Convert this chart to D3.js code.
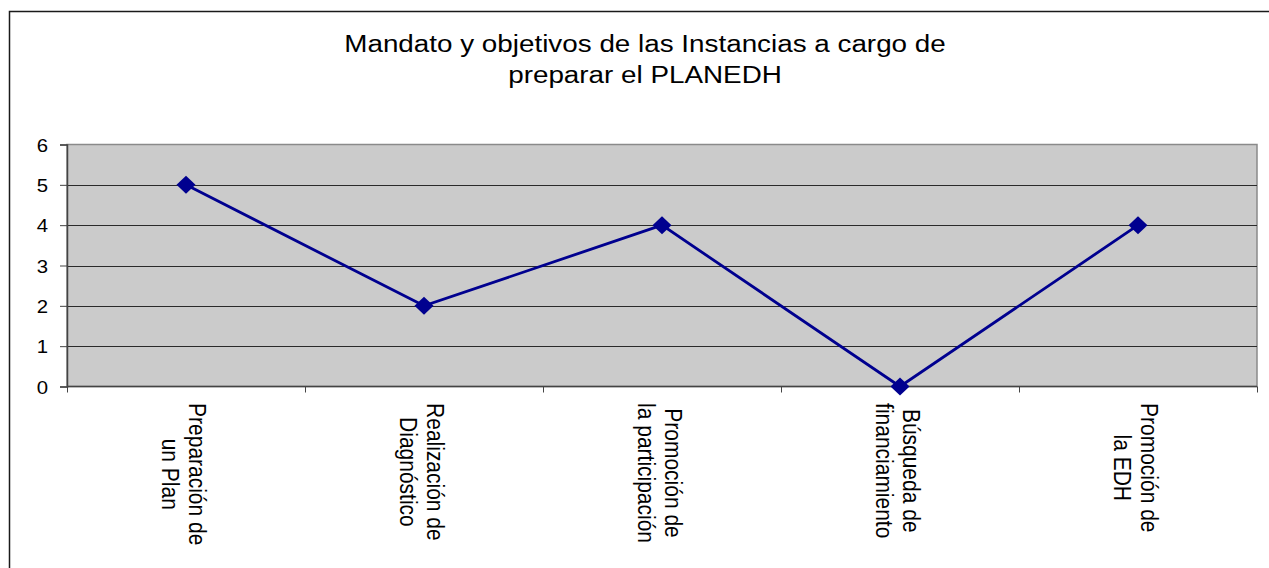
<!DOCTYPE html>
<html><head><meta charset="utf-8">
<script src="https://cdn.jsdelivr.net/npm/d3@7"></script>
<style>
html,body{margin:0;padding:0;background:#fff;}
svg{display:block;font-family:"Liberation Sans",Arial,sans-serif;}
</style></head>
<body><svg id="c" width="1269" height="568"></svg>
<script>
const titleLines = ["Mandato y objetivos de las Instancias a cargo de", "preparar el PLANEDH"];
const categories = [
  ["Preparación de", "un Plan"],
  ["Realización de", "Diagnóstico"],
  ["Promoción de", "la participación"],
  ["Búsqueda de", "financiamiento"],
  ["Promoción de", "la EDH"]
];
const values = [5, 2, 4, 0, 4];
const yTicks = [0, 1, 2, 3, 4, 5, 6];

const svg = d3.select("#c");
const W = 1269, H = 568;
const plot = {left: 67, right: 1257, top: 144.5, bottom: 386.5};
const sx = 1.15;

// outer border
svg.append("rect").attr("x", 9.5).attr("y", 11.5).attr("width", W + 20).attr("height", H + 20)
  .attr("fill", "#fff").attr("stroke", "#1a1a1a").attr("stroke-width", 1.5);

const x = d3.scaleBand().domain(d3.range(categories.length)).range([plot.left, plot.right]);
const y = d3.scaleLinear().domain([0, 6]).range([plot.bottom, plot.top]);

// plot background
svg.append("rect").attr("x", plot.left).attr("y", plot.top)
  .attr("width", plot.right - plot.left).attr("height", plot.bottom - plot.top)
  .attr("fill", "#cbcbcb").attr("stroke", "#8a8a8a").attr("stroke-width", 1.5);

// gridlines
svg.append("g").selectAll("line").data(yTicks.filter(d => d > 0 && d < 6)).join("line")
  .attr("x1", plot.left).attr("x2", plot.right)
  .attr("y1", d => Math.round(y(d)) + 0.5).attr("y2", d => Math.round(y(d)) + 0.5)
  .attr("stroke", "#2a2a2a").attr("stroke-width", 1);

// y axis
const yAxis = d3.axisLeft(y).tickValues(yTicks).tickSize(7).tickPadding(0).tickFormat(d3.format("d"));
const gy = svg.append("g").attr("transform", `translate(${plot.left},0)`).call(yAxis);
gy.select(".domain").attr("stroke", "#444").attr("stroke-width", 1.5);
gy.selectAll(".tick line").attr("stroke", "#444");
gy.selectAll(".tick text").remove();
gy.selectAll(".tick").append("text")
  .attr("transform", `translate(-19,0) scale(1.1,1)`)
  .attr("text-anchor", "end").attr("dy", "0.36em")
  .attr("font-size", 18.5).attr("fill", "#000")
  .text(d => d);

// x axis
const gx = svg.append("g").attr("transform", `translate(0,${plot.bottom})`);
gx.append("line").attr("x1", plot.left).attr("x2", plot.right).attr("y1", 0).attr("y2", 0)
  .attr("stroke", "#444").attr("stroke-width", 1.5);
const bounds = d3.range(categories.length + 1).map(i => i < categories.length ? x(i) : plot.right);
gx.selectAll("line.t").data(bounds).join("line").attr("class", "t")
  .attr("x1", d => Math.round(d) + 0.5).attr("x2", d => Math.round(d) + 0.5)
  .attr("y1", 0).attr("y2", 6).attr("stroke", "#444");

// category labels
const labelTop = 403;
categories.forEach((lines, i) => {
  const cx = x(i) + x.bandwidth() / 2;
  const g = svg.append("g");
  const t = g.append("text").attr("font-size", 21).attr("fill", "#000").attr("text-anchor", "middle");
  const spans = t.selectAll("tspan").data(lines).join("tspan")
    .attr("x", 0).attr("y", (d, j) => -3 + j * 23.5).text(d => d);
  let maxLen = 0;
  spans.each(function () { maxLen = Math.max(maxLen, this.getComputedTextLength()); });
  g.attr("transform", `translate(${cx},${labelTop + maxLen / 2}) scale(${sx},1) rotate(90)`);
});

// line
const line = d3.line().x((d, i) => x(i) + x.bandwidth() / 2).y(d => y(d));
svg.append("path").datum(values).attr("d", line)
  .attr("fill", "none").attr("stroke", "#00008f").attr("stroke-width", 2.8);

// markers
svg.append("g").selectAll("path").data(values).join("path")
  .attr("transform", (d, i) => `translate(${x(i) + x.bandwidth() / 2},${y(d)})`)
  .attr("d", "M0,-9L9.5,0L0,9L-9.5,0Z").attr("fill", "#00008f");

// title
svg.append("g").attr("transform", `translate(645,0) scale(1.21,1)`)
  .selectAll("text").data(titleLines).join("text")
  .attr("x", 0).attr("y", (d, i) => 52 + i * 31.5)
  .attr("text-anchor", "middle").attr("font-size", 23).attr("fill", "#000")
  .text(d => d);
</script></body></html>
